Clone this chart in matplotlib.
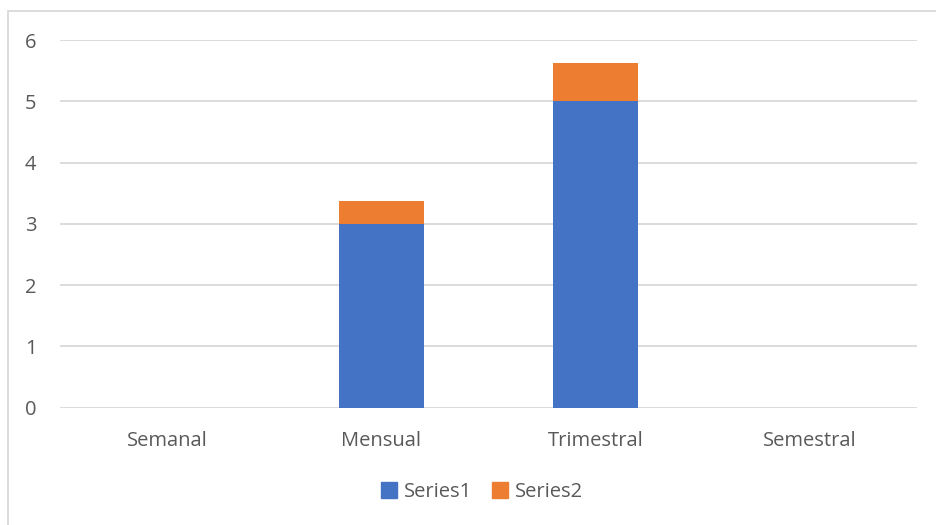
import matplotlib
matplotlib.use("Agg")
import matplotlib.pyplot as plt
from matplotlib.patches import Rectangle
from matplotlib.lines import Line2D
import numpy as np

categories = ["Semanal", "Mensual", "Trimestral", "Semestral"]
series1 = [0, 3, 5, 0]
series2 = [0, 0.375, 0.63, 0]
series_names = ["Series1", "Series2"]
y_ticks = [0, 1, 2, 3, 4, 5, 6]

BLUE = "#4472C4"
ORANGE = "#ED7D31"
TEXT = "#595959"
GRID = "#D9D9D9"

plt.rcParams["font.family"] = ["Open Sans", "DejaVu Sans"]

W, H = 937, 525
fig = plt.figure(figsize=(W / 100, H / 100), dpi=100)

# chart frame (left and top edges visible)
fig.patches.append(Rectangle((8.5 / W, -0.1), 1.2, (H - 11) / H + 0.1,
                             transform=fig.transFigure, fill=False,
                             edgecolor=GRID, linewidth=1.3))

ax = fig.add_axes([60 / W, 1 - 407.5 / H, (917 - 60) / W, (407.5 - 40) / H])
x = np.arange(len(categories))
ax.bar(x, series1, width=0.40, color=BLUE, zorder=3)
ax.bar(x, series2, width=0.40, bottom=series1, color=ORANGE, zorder=3)

ax.set_xlim(-0.5, len(categories) - 0.5)
ax.set_ylim(0, 6)
ax.set_yticks(y_ticks)
ax.set_xticks(x)
ax.set_xticklabels(categories)
ax.yaxis.grid(True, color=GRID, linewidth=1.3, zorder=0)
for s in ax.spines.values():
    s.set_visible(False)
ax.tick_params(axis="both", length=0, labelsize=14.5, colors=TEXT)
ax.tick_params(axis="y", pad=17)
ax.tick_params(axis="x", pad=17)

handles = [Line2D([], [], marker="s", linestyle="none", markersize=12,
                  color=c) for c in (BLUE, ORANGE)]
fig.legend(handles, series_names, loc="center", bbox_to_anchor=(481 / W, 1 - 492 / H),
           ncol=2, frameon=False, fontsize=14.5, labelcolor=TEXT,
           handletextpad=0.25, columnspacing=0.9, handlelength=1.0)

fig.savefig("out.png", dpi=100, facecolor="white")
